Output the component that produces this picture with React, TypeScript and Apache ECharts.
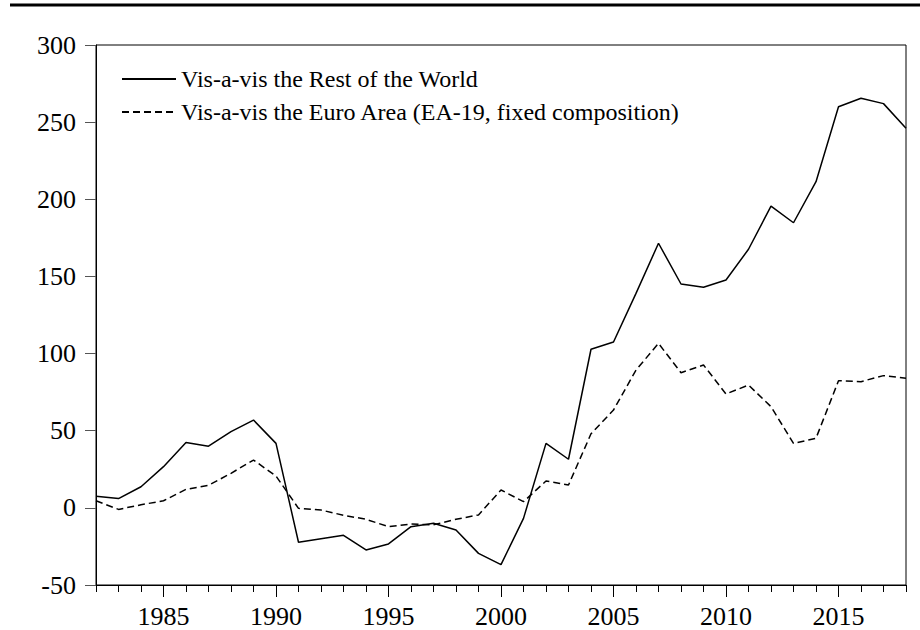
import React, { useEffect, useRef } from "react";
import * as echarts from "echarts";

const years: string[] = [];
for (let y = 1982; y <= 2018; y++) years.push(String(y));

const restOfWorld = [
  7.5, 6, 13.7, 26.7, 42.3, 40, 49.4, 56.9, 41.8, -22.3,
  -20, -17.8, -27.3, -23.4, -12.2, -10, -14.4, -29.5, -36.8, -6.8,
  41.8, 31.5, 102.8, 107.5, 139, 171.5, 145.1, 143, 147.7, 167.6,
  195.6, 184.8, 211.4, 260, 265.5, 262, 246,
];

const euroArea = [
  4.6, -1, 2, 4.6, 12, 14.6, 22.4, 31, 20.6, -0.3,
  -1.4, -4.8, -7.4, -12.2, -10.5, -11, -7.4, -4.6, 11.6, 4,
  17.4, 14.8, 48, 63.4, 89.3, 106.6, 87.6, 92.6, 73.8, 79.6,
  65.6, 41.8, 45.1, 82.4, 81.8, 85.7, 84,
];

const yTicks = { min: -50, max: 300, interval: 50 };

const seriesNames = [
  "Vis-a-vis the Rest of the World",
  "Vis-a-vis the Euro Area (EA-19, fixed composition)",
];

const FONT = "Liberation Serif";

export default function App() {
  const ref = useRef<HTMLDivElement>(null);
  useEffect(() => {
    if (!ref.current) return;
    const chart = echarts.init(ref.current, undefined, { renderer: "svg" });
    const isMajor = (i: number) => (1982 + i) % 5 === 0;
    chart.setOption({
      animation: false,
      backgroundColor: "#ffffff",
      textStyle: { fontFamily: FONT },
      graphic: [
        {
          type: "rect",
          shape: { x: 10, y: 3.5, width: 910, height: 3 },
          style: { fill: "#000" },
        },
      ],
      legend: {
        orient: "vertical",
        left: 116,
        top: 62,
        itemWidth: 54,
        itemHeight: 12,
        itemGap: 9,
        itemStyle: { opacity: 0 },
        textStyle: { fontFamily: FONT, fontSize: 24, color: "#000" },
        data: seriesNames,
      },
      grid: {
        left: 96,
        right: 14,
        top: 45,
        bottom: 45,
        show: true,
        borderColor: "#000",
        borderWidth: 1,
        containLabel: false,
      },
      xAxis: [
        {
          type: "category",
          data: years,
          boundaryGap: false,
          position: "bottom",
          axisLine: { show: true, onZero: false, lineStyle: { color: "#000", width: 1 } },
          axisTick: { show: true, interval: 0, length: 7, lineStyle: { color: "#000" } },
          axisLabel: { show: false },
          splitLine: { show: false },
        },
        {
          type: "category",
          data: years,
          boundaryGap: false,
          position: "bottom",
          axisLine: { show: false, onZero: false },
          axisTick: {
            show: true,
            interval: (i: number) => isMajor(i),
            length: 12,
            lineStyle: { color: "#000" },
          },
          axisLabel: {
            show: true,
            interval: (i: number) => isMajor(i),
            margin: 18,
            fontFamily: FONT,
            fontSize: 26,
            color: "#000",
          },
          splitLine: { show: false },
        },
      ],
      yAxis: {
        type: "value",
        min: yTicks.min,
        max: yTicks.max,
        interval: yTicks.interval,
        axisLine: { show: true, lineStyle: { color: "#000" } },
        axisTick: { show: true, length: 11, lineStyle: { color: "#555" } },
        axisLabel: {
          margin: 20,
          fontFamily: FONT,
          fontSize: 26,
          color: "#000",
        },
        splitLine: { show: false },
      },
      series: [
        {
          name: seriesNames[0],
          type: "line",
          data: restOfWorld,
          symbol: "none",
          lineStyle: { color: "#000", width: 1.5, type: "solid" },
          itemStyle: { color: "#000" },
        },
        {
          name: seriesNames[1],
          type: "line",
          data: euroArea,
          symbol: "none",
          lineStyle: { color: "#000", width: 1.5, type: [7, 4] },
          itemStyle: { color: "#000" },
        },
      ],
    });
    return () => chart.dispose();
  }, []);
  return (
    <div
      ref={ref}
      style={{ position: "fixed", left: 0, top: 0, width: 920, height: 630 }}
    />
  );
}
